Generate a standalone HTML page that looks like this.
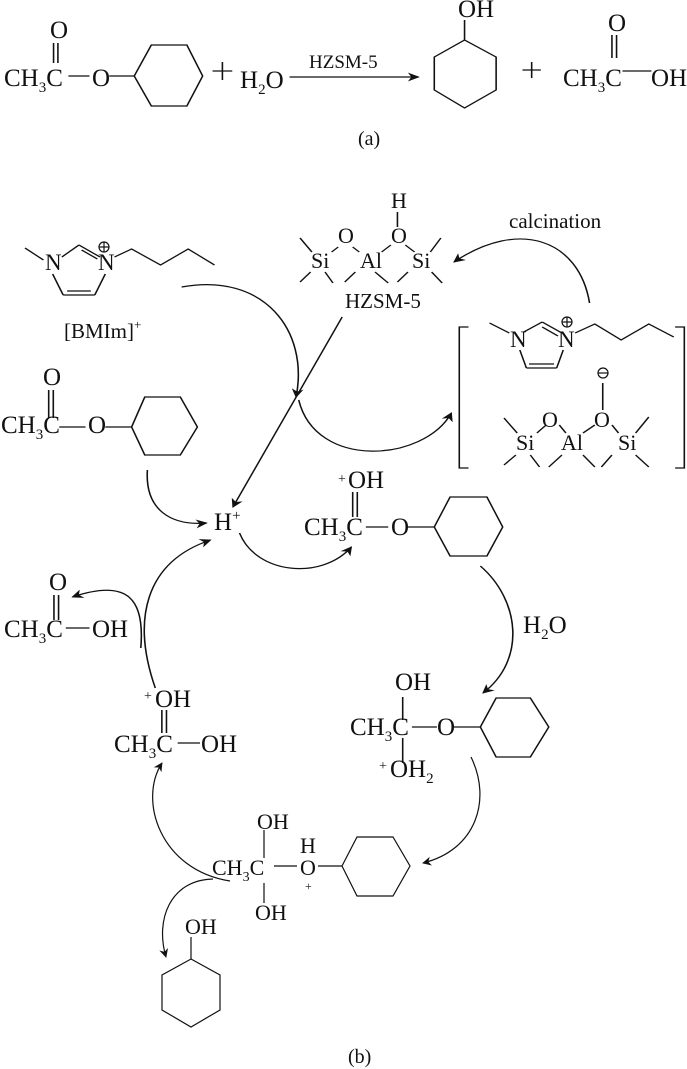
<!DOCTYPE html>
<html><head><meta charset="utf-8"><style>
html,body{margin:0;padding:0;background:#fff;}
svg{display:block;}
text{font-family:"Liberation Serif",serif;fill:#111;}
</style></head><body>
<svg width="687" height="1069" viewBox="0 0 687 1069" xmlns="http://www.w3.org/2000/svg">
<defs>
<marker id="ah" viewBox="0 0 10 10" refX="9" refY="5" markerWidth="9" markerHeight="9" orient="auto" markerUnits="userSpaceOnUse">
<path d="M0,0 L10,5 L0,10 L3,5 Z" fill="#111"/></marker>
</defs>
<g transform="scale(1.316,1)" fill="none" stroke="#111" stroke-width="1.2">
<g vector-effect="non-scaling-stroke">
<!-- (a) -->
<line x1="40.7" y1="43" x2="40.7" y2="63"/><line x1="44" y1="43" x2="44" y2="63"/>
<line x1="52" y1="76" x2="68" y2="76"/><line x1="83" y1="76" x2="102" y2="76"/>
<polygon points="102,76 115,45 142,45 154,76 142,106 115,106"/>
<line x1="161.5" y1="71" x2="176.5" y2="71"/><line x1="169" y1="62" x2="169" y2="80"/>
<line x1="220" y1="77" x2="318" y2="77" marker-end="url(#ah)"/>
<polygon points="353,40 377,57 377,90 353,108 330,90 330,57"/>
<line x1="353" y1="40" x2="353" y2="20"/>
<line x1="397" y1="70" x2="411" y2="70"/><line x1="404" y1="62" x2="404" y2="78"/>
<line x1="465" y1="35" x2="465" y2="58"/><line x1="468.5" y1="35" x2="468.5" y2="58"/>
<line x1="473" y1="71" x2="495" y2="71"/>
<!-- BMIm -->
<polyline points="19,248 33,260"/>
<line x1="47" y1="257" x2="60" y2="245"/>
<line x1="60" y1="245" x2="76" y2="257"/><line x1="62" y1="250" x2="74" y2="259"/>
<line x1="40" y1="274" x2="48" y2="295"/><line x1="48" y1="295" x2="72" y2="295"/><line x1="51" y1="291" x2="69" y2="291"/>
<line x1="80" y1="274" x2="72" y2="295"/>
<polyline points="87,257 100,249 122,265 143,249 163,265"/>
<!-- HZSM-5 top -->
<line x1="302" y1="212" x2="302" y2="227"/>
<line x1="228" y1="238" x2="237" y2="252"/>
<line x1="228" y1="282" x2="236" y2="272"/><line x1="247" y1="272" x2="253" y2="283"/>
<line x1="262" y1="282" x2="270" y2="272"/><line x1="285" y1="272" x2="295" y2="283"/>
<line x1="302" y1="282" x2="310" y2="272"/><line x1="328" y1="272" x2="336" y2="283"/>
<line x1="335" y1="238" x2="327" y2="252"/>
<line x1="252" y1="252" x2="257" y2="247"/><line x1="268" y1="247" x2="273" y2="252"/>
<line x1="290" y1="252" x2="297" y2="245"/><line x1="308" y1="245" x2="315" y2="252"/>
<!-- calcination arrow -->
<path d="M448 303 C 440 240, 395 218, 345 262" marker-end="url(#ah)"/>
<!-- big curves -->
<path d="M138 287 C 200 272, 235 330, 225 397" marker-end="url(#ah)"/>
<path d="M227 400 C 240 470, 322 462, 343 413" marker-end="url(#ah)"/>
<line x1="260" y1="317" x2="177" y2="507" marker-end="url(#ah)"/>
<!-- bracket -->
<polyline points="356,327 349,327 349,468 356,468"/>
<polyline points="513,327 520,327 520,468 513,468"/>
<line x1="372" y1="323" x2="387" y2="333"/>
<line x1="398" y1="332" x2="412" y2="322"/>
<line x1="412" y1="322" x2="427" y2="333"/><line x1="412" y1="327" x2="424" y2="336"/>
<line x1="395" y1="350" x2="400" y2="368"/><line x1="400" y1="368" x2="423" y2="368"/><line x1="402" y1="364" x2="421" y2="364"/>
<line x1="428" y1="350" x2="423" y2="368"/>
<polyline points="437,333 452,324 472,340 493,324 512,337"/>
<line x1="458" y1="383" x2="458" y2="410"/>
<line x1="383" y1="418" x2="393" y2="433"/>
<line x1="383" y1="465" x2="392" y2="455"/><line x1="403" y1="455" x2="410" y2="467"/>
<line x1="417" y1="467" x2="427" y2="455"/><line x1="443" y1="455" x2="452" y2="467"/>
<line x1="457" y1="467" x2="465" y2="455"/><line x1="483" y1="455" x2="493" y2="467"/>
<line x1="493" y1="417" x2="483" y2="433"/>
<line x1="408" y1="433" x2="415" y2="425"/><line x1="425" y1="425" x2="430" y2="433"/>
<line x1="443" y1="433" x2="452" y2="425"/><line x1="465" y1="425" x2="470" y2="433"/>
<!-- ester left -->
<line x1="37" y1="390" x2="37" y2="418"/><line x1="40.5" y1="390" x2="40.5" y2="418"/>
<line x1="45" y1="427" x2="65" y2="427"/><line x1="80" y1="427" x2="100" y2="427"/>
<polygon points="100,427 110,397 137,397 150,427 137,455 110,455"/>
<path d="M112 470 C 110 510, 130 526, 157 523" marker-end="url(#ah)"/>
<!-- protonated ester -->
<path d="M182 533 C 195 575, 245 580, 267 547" marker-end="url(#ah)"/>
<line x1="268" y1="492" x2="268" y2="517"/><line x1="271.5" y1="492" x2="271.5" y2="517"/>
<line x1="278" y1="527" x2="295" y2="527"/><line x1="310" y1="527" x2="330" y2="527"/>
<polygon points="330,527 342,497 370,497 382,527 370,556 342,556"/>
<path d="M365 566 C 395 600, 400 660, 367 693" marker-end="url(#ah)"/>
<!-- tetrahedral -->
<line x1="306" y1="697" x2="306" y2="720"/><line x1="306" y1="738" x2="306" y2="763"/>
<line x1="313" y1="727" x2="332" y2="727"/><line x1="345" y1="727" x2="365" y2="727"/>
<polygon points="365,727 377,698 403,698 417,727 403,757 377,757"/>
<!-- acetic acid -->
<line x1="41" y1="595" x2="41" y2="620"/><line x1="44.5" y1="595" x2="44.5" y2="620"/>
<line x1="50" y1="628" x2="68" y2="628"/>
<path d="M107 648 C 110 600, 98 578, 55 597" marker-end="url(#ah)"/>
<path d="M118 688 C 100 620, 110 562, 160 540" marker-end="url(#ah)"/>
<!-- protonated acid -->
<line x1="123" y1="710" x2="123" y2="733"/><line x1="126.5" y1="710" x2="126.5" y2="733"/>
<line x1="135" y1="743" x2="152" y2="743"/>
</g></g>
<g fill="none" stroke="#111" stroke-width="1.2">
<circle cx="104" cy="247" r="5"/><line x1="99" y1="247" x2="109" y2="247"/><line x1="104" y1="242" x2="104" y2="252"/>
<circle cx="567" cy="322" r="5"/><line x1="562" y1="322" x2="572" y2="322"/><line x1="567" y1="317" x2="567" y2="327"/>
<circle cx="603" cy="373" r="5"/><line x1="598" y1="373" x2="608" y2="373"/>
<line x1="264" y1="830" x2="264" y2="858"/><line x1="264" y1="883" x2="264" y2="903"/>
<line x1="274" y1="866" x2="297" y2="866"/><line x1="318" y1="866" x2="342" y2="866"/>
<polygon points="342,866 357,837 393,837 410,866 393,896 357,896"/>
<path d="M471 757 C 492 800, 476 850, 423 863" marker-end="url(#ah)"/>
<path d="M230 881 C 160 870, 138 800, 162 763" marker-end="url(#ah)"/>
<path d="M213 879 C 170 880, 155 920, 166 957" marker-end="url(#ah)"/>
<line x1="191" y1="937" x2="191" y2="959"/>
<polygon points="191,959 220,975 220,1010 191,1027 162,1010 162,975"/>
</g>
<g font-size="25">
<text x="4" y="86">CH<tspan font-size="15" dy="6">3</tspan><tspan dy="-6">C</tspan></text>
<text x="50" y="38">O</text>
<text x="92" y="86">O</text>
<text x="240" y="88">H<tspan font-size="15" dy="6">2</tspan><tspan dy="-6">O</tspan></text>
<text x="309" y="68" font-size="19">HZSM-5</text>
<text x="458" y="17">OH</text>
<text x="563" y="86">CH<tspan font-size="15" dy="6">3</tspan><tspan dy="-6">C</tspan></text>
<text x="608" y="31">O</text>
<text x="651" y="86">OH</text>
<text x="358" y="145" font-size="20">(a)</text>

<text x="45" y="270" font-size="23">N</text>
<text x="98" y="270" font-size="23">N</text>
<text x="64" y="338" font-size="21">[BMIm]<tspan font-size="13" dy="-9">+</tspan></text>
<text x="391" y="208" font-size="22">H</text>
<text x="391" y="243" font-size="22">O</text>
<text x="338" y="243" font-size="22">O</text>
<text x="311" y="268" font-size="22">Si</text>
<text x="360" y="268" font-size="22">Al</text>
<text x="412" y="268" font-size="22">Si</text>
<text x="345" y="308" font-size="21">HZSM-5</text>
<text x="509" y="228" font-size="21">calcination</text>
<text x="510" y="347" font-size="23">N</text>
<text x="558" y="347" font-size="23">N</text>
<text x="542" y="427" font-size="22">O</text>
<text x="594" y="427" font-size="22">O</text>
<text x="516" y="450" font-size="22">Si</text>
<text x="561" y="450" font-size="22">Al</text>
<text x="618" y="450" font-size="22">Si</text>

<text x="43" y="385">O</text>
<text x="1" y="433">CH<tspan font-size="15" dy="6">3</tspan><tspan dy="-6">C</tspan></text>
<text x="88" y="433">O</text>
<text x="214" y="530">H<tspan font-size="15" dy="-10">+</tspan></text>
<text x="338" y="483" font-size="14">+</text>
<text x="348" y="488">OH</text>
<text x="304" y="535">CH<tspan font-size="15" dy="6">3</tspan><tspan dy="-6">C</tspan></text>
<text x="391" y="535">O</text>
<text x="523" y="633">H<tspan font-size="15" dy="6">2</tspan><tspan dy="-6">O</tspan></text>
<text x="395" y="690">OH</text>
<text x="350" y="735">CH<tspan font-size="15" dy="6">3</tspan><tspan dy="-6">C</tspan></text>
<text x="437" y="735">O</text>
<text x="379" y="770" font-size="14">+</text>
<text x="390" y="777">OH<tspan font-size="15" dy="6">2</tspan></text>
<text x="49" y="590">O</text>
<text x="4" y="637">CH<tspan font-size="15" dy="6">3</tspan><tspan dy="-6">C</tspan></text>
<text x="92" y="637">OH</text>
<text x="144" y="700" font-size="14">+</text>
<text x="155" y="707">OH</text>
<text x="114" y="752">CH<tspan font-size="15" dy="6">3</tspan><tspan dy="-6">C</tspan></text>
<text x="201" y="752">OH</text>

<text x="257" y="829" font-size="22">OH</text>
<text x="300" y="853" font-size="22">H</text>
<text x="212" y="875" font-size="22">CH<tspan font-size="14" dy="6">3</tspan><tspan dy="-6">C</tspan></text>
<text x="300" y="875" font-size="22">O</text>
<text x="305" y="890" font-size="12">+</text>
<text x="255" y="920" font-size="22">OH</text>
<text x="185" y="934" font-size="22">OH</text>
<text x="348" y="1063" font-size="20">(b)</text>
</g>
</svg>
</body></html>
